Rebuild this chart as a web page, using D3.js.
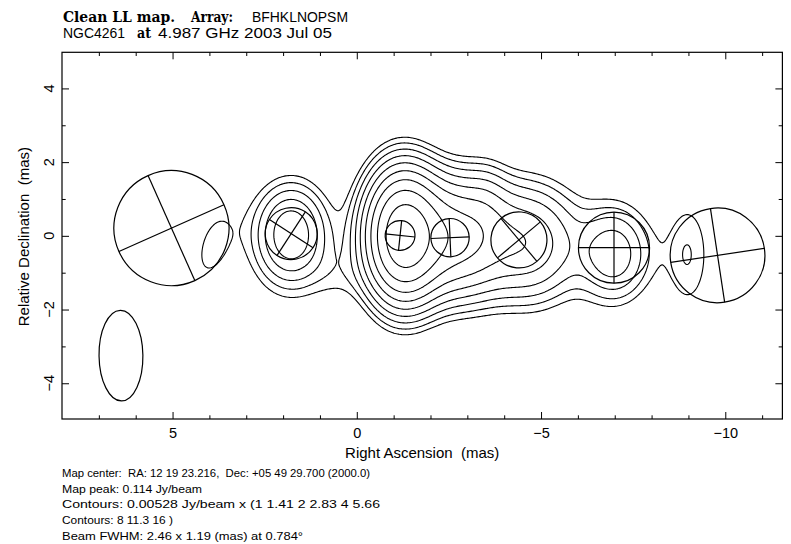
<!DOCTYPE html>
<html><head><meta charset="utf-8">
<script src="https://cdn.jsdelivr.net/npm/d3@7"></script>
<style>body{margin:0;background:#fff} svg{display:block} text{white-space:pre}</style>
</head><body>
<svg id="chart" width="791" height="544"></svg>
<script>
// ---------------- data ----------------
const raDomain  = [8.0, -11.55];          // Right Ascension (mas), left to right
const decDomain = [4.98, -4.97];          // Relative Declination (mas), top to bottom
const xMajorTicks = [5, 0, -5, -10];
const xMinorTicks = [7, 6, 4, 3, 2, 1, -1, -2, -3, -4, -6, -7, -8, -9, -11];
const yMajorTicks = [4, 2, 0, -2, -4];
const yMinorTicks = [3, 1, -1, -3];

const baseLevel = 0.00528;                 // Jy/beam
const levelMultipliers = [1, 1.41, 2, 2.83, 4, 5.66, 8, 11.3, 16];

// brightness components of the CLEAN map (image plane, beam-convolved)
const srcName = ["core", "E", "F", "G", "H", "lobeN", "lobeB", "iso", "jetBroad", "neckS", "jetTop"];
const srcRA   = [-1.25, -2.75, -4.70, -7.00, -9.00, 1.78, 1.80, 3.95, -5.30, 0.50, -3.55];
const srcDec  = [ 0.00, -0.05, -0.20, -0.50, -0.52, 0.05, -0.15, -0.33, -0.20, -1.10, 1.00];
const srcPeak = [0.105, 0.045, 0.023, 0.017, 0.0072, 0.022, 0.0065, 0.0055, 0.003, 0.0028, 0.004];
const srcFx   = [1.48, 2.00, 1.90, 1.50, 1.19, 1.30, 2.40, 1.10, 4.00, 1.20, 0.90];
const srcFy   = [2.55, 2.40, 2.30, 2.00, 3.00, 1.80, 3.20, 2.46, 3.50, 1.20, 1.60];
const srcPA   = [0, 0, 0, 0, 0, 0, 0, -15, 0, 0, 0];

// model-fit components (drawn as ellipses with axes)
const compRA  = [5.03, 1.78, -1.175, -2.53, -4.40, -6.98, -9.79];
const compDec = [0.21, 0.06, 0.01, -0.05, -0.11, -0.32, -0.53];
const compMaj = [3.12, 1.41, 0.81, 1.04, 1.52, 1.93, 2.57];
const compMin = [3.12, 1.41, 0.81, 1.04, 1.52, 1.93, 2.57];
const compPA  = [24, 57, -6, 2.5, 40, 0, 8.6];

// restoring beam
const beamRA = 6.40, beamDec = -3.25, beamMaj = 2.46, beamMin = 1.19, beamPA = 0.784;

const titleLine1 = [
  {t: "Clean LL map.", x: 63, w: 112, bold: true},
  {t: "Array:", x: 191, w: 42, bold: true},
  {t: "BFHKLNOPSM", x: 252, w: 96, bold: false}
];
const titleLine2 = [
  {t: "NGC4261", x: 63, w: 62, bold: false},
  {t: "at", x: 137, w: 14, bold: true},
  {t: "4.987 GHz 2003 Jul 05", x: 158, w: 174, bold: false}
];
const footerLines = [
  {t: "Map center:  RA: 12 19 23.216,  Dec: +05 49 29.700 (2000.0)", w: 308},
  {t: "Map peak: 0.114 Jy/beam", w: 140},
  {t: "Contours: 0.00528 Jy/beam x (1 1.41 2 2.83 4 5.66", w: 318},
  {t: "Contours: 8 11.3 16 )", w: 111},
  {t: "Beam FWHM: 2.46 x 1.19 (mas) at 0.784\u00B0", w: 241}
];
const xLabel = "Right Ascension  (mas)";
const yLabel = "Relative Declination  (mas)";

// ---------------- layout ----------------
const svg = d3.select("#chart");
const X0 = 62, X1 = 782.4, Y0 = 52.3, Y1 = 419;
const x = d3.scaleLinear().domain(raDomain).range([X0, X1]);
const y = d3.scaleLinear().domain(decDomain).range([Y0, Y1]);
const pxPerMas = Math.abs(x(1) - x(0));
const sans = "'Liberation Sans', Arial, Helvetica, sans-serif";
const serif = "'DejaVu Serif', 'Liberation Serif', serif";

// ---------------- brightness grid & contours ----------------
const step = 0.035;
const nx = Math.ceil((raDomain[0] - raDomain[1]) / step);
const ny = Math.ceil((decDomain[0] - decDomain[1]) / step);
const values = new Float64Array(nx * ny);
const g4 = 4 * Math.LN2;
for (let j = 0; j < ny; j++) {
  const dec = decDomain[0] - (j + 0.5) * step;
  for (let i = 0; i < nx; i++) {
    const ra = raDomain[0] - (i + 0.5) * step;
    let v = 0;
    for (let s = 0; s < srcRA.length; s++) {
      const dx = ra - srcRA[s], dy = dec - srcDec[s];
      const th = srcPA[s] * Math.PI / 180;
      const along = dx * Math.sin(th) + dy * Math.cos(th);
      const across = dx * Math.cos(th) - dy * Math.sin(th);
      v += srcPeak[s] * Math.exp(-g4 * ((across / srcFx[s]) ** 2 + (along / srcFy[s]) ** 2));
    }
    values[j * nx + i] = v;
  }
}
const levels = levelMultipliers.map(m => baseLevel * m);
const contours = d3.contours().size([nx, ny]).thresholds(levels)(values);
const proj = d3.geoTransform({
  point: function(gx, gy) {
    this.stream.point(x(raDomain[0] - gx * step), y(decDomain[0] - gy * step));
  }
});
const path = d3.geoPath(proj);

svg.append("defs").append("clipPath").attr("id", "plotclip")
  .append("rect").attr("x", X0).attr("y", Y0).attr("width", X1 - X0).attr("height", Y1 - Y0);

const plot = svg.append("g").attr("clip-path", "url(#plotclip)");
plot.append("g").selectAll("path").data(contours).join("path")
  .attr("d", path).attr("fill", "none").attr("stroke", "#000").attr("stroke-width", 1.1)
  .attr("stroke-linejoin", "round");

// model components
const comps = compRA.map((ra, i) => ({ra, dec: compDec[i], maj: compMaj[i], min: compMin[i], pa: compPA[i]}));
const cg = plot.append("g").selectAll("g").data(comps).join("g")
  .attr("transform", d => `translate(${x(d.ra)},${y(d.dec)}) rotate(${-d.pa})`);
cg.append("ellipse").attr("rx", d => d.min / 2 * pxPerMas).attr("ry", d => d.maj / 2 * pxPerMas)
  .attr("fill", "none").attr("stroke", "#000").attr("stroke-width", 1.2);
cg.append("line").attr("x1", 0).attr("x2", 0)
  .attr("y1", d => -d.maj / 2 * pxPerMas).attr("y2", d => d.maj / 2 * pxPerMas)
  .attr("stroke", "#000").attr("stroke-width", 1.2);
cg.append("line").attr("y1", 0).attr("y2", 0)
  .attr("x1", d => -d.min / 2 * pxPerMas).attr("x2", d => d.min / 2 * pxPerMas)
  .attr("stroke", "#000").attr("stroke-width", 1.2);

// beam
plot.append("ellipse")
  .attr("transform", `translate(${x(beamRA)},${y(beamDec)}) rotate(${-beamPA})`)
  .attr("rx", beamMin / 2 * pxPerMas).attr("ry", beamMaj / 2 * pxPerMas)
  .attr("fill", "none").attr("stroke", "#000").attr("stroke-width", 1.2);

// ---------------- axes ----------------
function styleAxis(g) {
  g.select(".domain").remove();
  g.selectAll(".tick line").attr("stroke", "#000").attr("stroke-width", 1);
  g.selectAll(".tick text").attr("fill", "#000");
}
svg.append("g").attr("transform", `translate(0,${Y1})`)
  .call(d3.axisBottom(x).tickValues(xMajorTicks).tickSize(-7).tickPadding(9).tickFormat(d3.format("d")))
  .call(styleAxis)
  .call(g => g.selectAll("text").attr("font-family", sans).attr("font-size", 14.5));
svg.append("g").attr("transform", `translate(0,${Y1})`)
  .call(d3.axisBottom(x).tickValues(xMinorTicks).tickSize(-3.7).tickFormat(""))
  .call(styleAxis);
svg.append("g").attr("transform", `translate(0,${Y0})`)
  .call(d3.axisTop(x).tickValues(xMajorTicks).tickSize(-7).tickFormat(""))
  .call(styleAxis);
svg.append("g").attr("transform", `translate(0,${Y0})`)
  .call(d3.axisTop(x).tickValues(xMinorTicks).tickSize(-3.7).tickFormat(""))
  .call(styleAxis);
svg.append("g").attr("transform", `translate(${X0},0)`)
  .call(d3.axisLeft(y).tickValues(yMajorTicks).tickSize(-7).tickFormat(""))
  .call(styleAxis);
svg.append("g").attr("transform", `translate(${X0},0)`)
  .call(d3.axisLeft(y).tickValues(yMinorTicks).tickSize(-3.7).tickFormat(""))
  .call(styleAxis);
svg.append("g").attr("transform", `translate(${X1},0)`)
  .call(d3.axisRight(y).tickValues(yMajorTicks).tickSize(-7).tickFormat(""))
  .call(styleAxis);
svg.append("g").attr("transform", `translate(${X1},0)`)
  .call(d3.axisRight(y).tickValues(yMinorTicks).tickSize(-3.7).tickFormat(""))
  .call(styleAxis);

// y tick labels (rotated, as in the original)
const fmt = d3.format("d");
svg.append("g").selectAll("text").data(yMajorTicks).join("text")
  .attr("transform", d => `translate(53.5,${y(d)}) rotate(-90)`)
  .attr("text-anchor", "middle").attr("font-family", sans).attr("font-size", 14.5)
  .text(d => fmt(d));

// frame
svg.append("rect").attr("x", X0).attr("y", Y0).attr("width", X1 - X0).attr("height", Y1 - Y0)
  .attr("fill", "none").attr("stroke", "#000").attr("stroke-width", 1.2);

// axis labels
svg.append("text").attr("x", (X0 + X1) / 2).attr("y", 458).attr("text-anchor", "middle")
  .attr("font-family", sans).attr("font-size", 15).text(xLabel);
svg.append("text").attr("transform", `translate(28.5,${(Y0 + Y1) / 2 + 1})rotate(-90)`)
  .attr("text-anchor", "middle").attr("font-family", sans).attr("font-size", 15).text(yLabel);

// title
function titleRow(items, baseline) {
  svg.append("g").selectAll("text").data(items).join("text")
    .attr("x", d => d.x).attr("y", baseline)
    .attr("font-family", d => d.bold ? serif : sans)
    .attr("font-weight", d => d.bold ? "bold" : "normal")
    .attr("font-size", d => d.bold ? 14.5 : 14)
    .attr("textLength", d => d.w).attr("lengthAdjust", "spacingAndGlyphs")
    .text(d => d.t);
}
titleRow(titleLine1, 21.5);
titleRow(titleLine2, 37.5);

// footer
svg.append("g").selectAll("text").data(footerLines).join("text")
  .attr("x", 62).attr("y", (d, i) => 477 + i * 15.7)
  .attr("font-family", sans).attr("font-size", 11)
  .attr("textLength", d => d.w).attr("lengthAdjust", "spacingAndGlyphs")
  .text(d => d.t);
</script>
</body></html>
